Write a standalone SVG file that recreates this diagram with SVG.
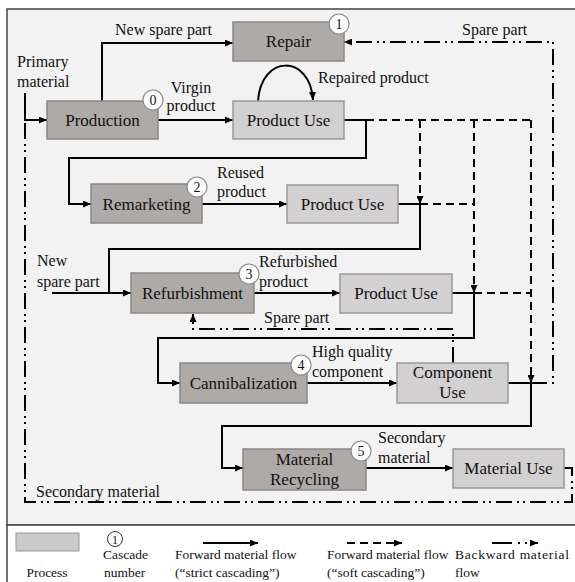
<svg xmlns="http://www.w3.org/2000/svg" width="575" height="582" viewBox="0 0 575 582" font-family="'Liberation Serif', 'DejaVu Serif', 'Times New Roman', serif">
  <style>
    text { fill: #111; }
    .node-text { font-size: 17px; text-anchor: middle; }
    .lbl { font-size: 16px; }
    .leg { font-size: 13.5px; }
    .num { font-size: 14px; text-anchor: middle; }
    .proc-dark { fill: #aeaaa8; stroke: #8a8785; stroke-width: 1.5; }
    .proc-light { fill: #d2d0d0; stroke: #9a9898; stroke-width: 1.5; }
    .badge { fill: #ffffff; stroke: #8a8a8a; stroke-width: 1.2; }
    .strict { fill: none; stroke: #000; stroke-width: 2; }
    .soft { fill: none; stroke: #000; stroke-width: 2; stroke-dasharray: 8 5; }
    .back { fill: none; stroke: #000; stroke-width: 2; stroke-dasharray: 16 5 2 4 2 5; }
  </style>
  <defs>
    <marker id="arrow" viewBox="0 0 8 7" refX="8" refY="3.5" markerWidth="8" markerHeight="7" markerUnits="userSpaceOnUse" orient="auto">
      <path d="M0,0 L8,3.5 L0,7 z" fill="#000"/>
    </marker>
  </defs>

  <!-- panels -->
  <rect x="7" y="9" width="580" height="516" fill="#f2f2f2" stroke="#444" stroke-width="1.5"/>
  <rect x="7" y="525" width="580" height="70" fill="#ffffff" stroke="#444" stroke-width="1.5"/>

  <!-- connectors -->
  <g id="connectors">
    <!-- strict cascading -->
    <path class="strict" d="M25,93 V120 H47" marker-end="url(#arrow)"/>
    <path class="strict" d="M102,101 V43 H233" marker-end="url(#arrow)"/>
    <path class="strict" d="M158,120 H233" marker-end="url(#arrow)"/>
    <path class="strict" d="M258,101 C261,54 310,54 313,100" marker-end="url(#arrow)"/>
    <path class="strict" d="M344,120 H366 V158 H69 V204 H91" marker-end="url(#arrow)"/>
    <path class="strict" d="M202,204 H287" marker-end="url(#arrow)"/>
    <path class="strict" d="M398,204 H420 V249 H109 V293 H131" marker-end="url(#arrow)"/>
    <path class="strict" d="M52,293 H109"/>
    <path class="strict" d="M254,293 H340" marker-end="url(#arrow)"/>
    <path class="strict" d="M452,293 H474 V338 H158 V383 H180" marker-end="url(#arrow)"/>
    <path class="strict" d="M307,383 H397" marker-end="url(#arrow)"/>
    <path class="strict" d="M508,383 H531 V426 H222 V468 H243" marker-end="url(#arrow)"/>
    <path class="strict" d="M366,468 H453" marker-end="url(#arrow)"/>

    <!-- soft cascading -->
    <path class="soft" d="M366,120 H531"/>
    <path class="soft" d="M420,120 V204" marker-end="url(#arrow)"/>
    <path class="soft" d="M474,120 V293" marker-end="url(#arrow)"/>
    <path class="soft" d="M531,120 V383" marker-end="url(#arrow)"/>
    <path class="soft" d="M420,204 H474"/>
    <path class="soft" d="M474,293 H531"/>

    <!-- backward flows -->
    <path class="back" d="M531,383 H553 V42 H344" marker-end="url(#arrow)"/>
    <path class="back" d="M453,363 V329 H193 V314" marker-end="url(#arrow)"/>
    <path class="back" d="M564,468 H572 V502 H25 V121"/>
  </g>

  <!-- flow labels -->
  <g id="labels">
    <text class="lbl" x="115" y="35">New spare part</text>
    <text class="lbl" x="17" y="67">Primary</text>
    <text class="lbl" x="17" y="87">material</text>
    <text class="lbl" x="191" y="93" text-anchor="middle">Virgin</text>
    <text class="lbl" x="191" y="111" text-anchor="middle">product</text>
    <text class="lbl" x="318" y="83">Repaired product</text>
    <text class="lbl" x="462" y="35">Spare part</text>
    <text class="lbl" x="217" y="178">Reused</text>
    <text class="lbl" x="217" y="197">product</text>
    <text class="lbl" x="37" y="266">New</text>
    <text class="lbl" x="37" y="287">spare part</text>
    <text class="lbl" x="259" y="267">Refurbished</text>
    <text class="lbl" x="259" y="287">product</text>
    <text class="lbl" x="264" y="323">Spare part</text>
    <text class="lbl" x="312" y="357">High quality</text>
    <text class="lbl" x="312" y="377">component</text>
    <text class="lbl" x="378" y="443">Secondary</text>
    <text class="lbl" x="378" y="463">material</text>
    <text class="lbl" x="36" y="497">Secondary material</text>
  </g>

  <!-- process nodes -->
  <g id="repair">
    <rect class="proc-dark" x="233" y="22" width="111" height="39"/>
    <text class="node-text" x="288.5" y="47">Repair</text>
    <circle class="badge" cx="339" cy="24" r="10"/>
    <text class="num" x="339" y="29">1</text>
  </g>
  <g id="production">
    <rect class="proc-dark" x="47" y="101" width="111" height="38"/>
    <text class="node-text" x="102.5" y="126">Production</text>
    <circle class="badge" cx="153" cy="100" r="10"/>
    <text class="num" x="153" y="105">0</text>
  </g>
  <g id="product-use-1">
    <rect class="proc-light" x="233" y="101" width="111" height="38"/>
    <text class="node-text" x="288.5" y="126">Product Use</text>
  </g>
  <g id="remarketing">
    <rect class="proc-dark" x="91" y="184" width="111" height="39"/>
    <text class="node-text" x="146.5" y="210">Remarketing</text>
    <circle class="badge" cx="197" cy="187" r="10"/>
    <text class="num" x="197" y="192">2</text>
  </g>
  <g id="product-use-2">
    <rect class="proc-light" x="287" y="185" width="111" height="38"/>
    <text class="node-text" x="342.5" y="210">Product Use</text>
  </g>
  <g id="refurbishment">
    <rect class="proc-dark" x="131" y="273" width="123" height="40"/>
    <text class="node-text" x="192.5" y="299">Refurbishment</text>
    <circle class="badge" cx="249" cy="274" r="10"/>
    <text class="num" x="249" y="279">3</text>
  </g>
  <g id="product-use-3">
    <rect class="proc-light" x="340" y="274" width="112" height="39"/>
    <text class="node-text" x="396" y="299">Product Use</text>
  </g>
  <g id="cannibalization">
    <rect class="proc-dark" x="180" y="363" width="127" height="40"/>
    <text class="node-text" x="243.5" y="389">Cannibalization</text>
    <circle class="badge" cx="301" cy="365" r="10"/>
    <text class="num" x="301" y="370">4</text>
  </g>
  <g id="component-use">
    <rect class="proc-light" x="397" y="363" width="111" height="40"/>
    <text class="node-text" x="452.5" y="378">Component</text>
    <text class="node-text" x="452.5" y="398">Use</text>
  </g>
  <g id="material-recycling">
    <rect class="proc-dark" x="243" y="449" width="123" height="41"/>
    <text class="node-text" x="304.5" y="465">Material</text>
    <text class="node-text" x="304.5" y="485">Recycling</text>
    <circle class="badge" cx="361" cy="451" r="10"/>
    <text class="num" x="361" y="456">5</text>
  </g>
  <g id="material-use">
    <rect class="proc-light" x="453" y="449" width="111" height="39"/>
    <text class="node-text" x="508.5" y="474">Material Use</text>
  </g>

  <!-- legend -->
  <g id="legend">
    <rect x="16" y="533" width="63" height="18" fill="#cacaca" stroke="#9a9898" stroke-width="1"/>
    <text class="leg" x="47" y="577" text-anchor="middle">Process</text>
    <circle cx="115" cy="539" r="7.5" fill="none" stroke="#222" stroke-width="0.9"/>
    <text x="115" y="543.5" font-size="12" text-anchor="middle">1</text>
    <text class="leg" x="103" y="559">Cascade</text>
    <text class="leg" x="104" y="577">number</text>
    <path class="strict" d="M203,543 H258" marker-end="url(#arrow)"/>
    <text class="leg" x="175" y="559">Forward material flow</text>
    <text class="leg" x="175" y="577">(“strict cascading”)</text>
    <path class="soft" d="M347,543 H402" marker-end="url(#arrow)"/>
    <text class="leg" x="327" y="559">Forward material flow</text>
    <text class="leg" x="327" y="577">(“soft cascading”)</text>
    <path fill="none" stroke="#000" stroke-width="2" stroke-dasharray="20 6 2 5 2 5" d="M492,543 H538" marker-end="url(#arrow)"/>
    <text class="leg" x="455" y="559" textLength="114" lengthAdjust="spacing">Backward material</text>
    <text class="leg" x="455" y="577">flow</text>
  </g>
</svg>
